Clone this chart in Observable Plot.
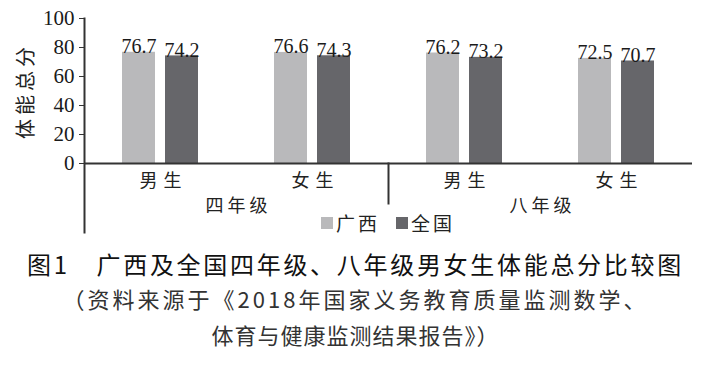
<!DOCTYPE html>
<html>
<head>
<meta charset="utf-8">
<script src="https://cdn.jsdelivr.net/npm/d3@7"></script>
<script src="https://cdn.jsdelivr.net/npm/@observablehq/plot@0.6"></script>
<style>
  body { margin: 0; background: white; }
  #wrap { position: relative; width: 711px; height: 370px; background: white; overflow: hidden; }
  #chart { position: absolute; left: 0; top: 0; }
  .cat text { letter-spacing: 6px; }
  .grade text { letter-spacing: 4px; }
  .ytitle text { letter-spacing: 4px; }
  #legend { position: absolute; left: 321px; top: 209px; display: flex; align-items: center;
    font-family: "Noto Sans CJK SC", sans-serif; font-size: 19px; color: #222; }
  .item { display: flex; align-items: center; margin-right: 16px; letter-spacing: 3px; }
  .sw { width: 12px; height: 12px; margin-right: 3px; display: inline-block; }
  .cap { position: absolute; left: 0; width: 711px; text-align: center; font-family: "Noto Sans CJK SC", sans-serif; }
</style>
</head>
<body>
<div id="wrap">
  <div id="chart"></div>
  <div id="legend"></div>
  <div class="cap" id="c1" style="top:246px;font-size:24px;letter-spacing:2.7px;color:#111;"></div>
  <div class="cap" id="c2" style="top:282px;font-size:22px;letter-spacing:3px;color:#333;"></div>
  <div class="cap" id="c3" style="top:318px;font-size:22px;letter-spacing:1px;color:#333;"></div>
</div>
<script>
const grades = ["四年级", "四年级", "八年级", "八年级"];
const sexes = ["男生", "女生", "男生", "女生"];
const series = ["广西", "全国"];
const guangxi = [76.7, 76.6, 76.2, 72.5];
const national = [74.2, 74.3, 73.2, 70.7];
const yTicks = [0, 20, 40, 60, 80, 100];
const yTitle = "体能总分";
const caption1 = "图1　广西及全国四年级、八年级男女生体能总分比较图";
const caption2 = "（资料来源于《2018年国家义务教育质量监测数学、";
const caption3 = "体育与健康监测结果报告》）";

const keys = grades.map((g, i) => g + "|" + sexes[i]);
const rows = [];
keys.forEach((k, i) => {
  rows.push({key: k, series: series[0], value: guangxi[i]});
  rows.push({key: k, series: series[1], value: national[i]});
});
const colors = ["#b9b9bb", "#66666a"];
const font = "'Liberation Serif', 'Noto Sans CJK SC', serif";
const cjk = "'Noto Sans CJK SC', sans-serif";

const plot = Plot.plot({
  width: 711,
  height: 240,
  marginLeft: 82,
  marginRight: 18,
  marginTop: 18,
  marginBottom: 77,
  style: {fontFamily: font, background: "white", color: "#222", overflow: "visible"},
  fx: {domain: keys, padding: 0, axis: null, label: null},
  x: {domain: series, paddingInner: 0.227, paddingOuter: 0.85, axis: null},
  y: {domain: [0, 100], axis: null},
  color: {domain: series, range: colors},
  marks: [
    Plot.barY(rows, {fx: "key", x: "series", y: "value", fill: "series"}),
    Plot.text(rows, {fx: "key", x: "series", y: "value", text: d => d.value.toFixed(1),
      lineAnchor: "bottom", dy: 1, fontSize: 20, fill: "#1a1a1a"}),
    Plot.ruleY([0], {stroke: "#333", strokeWidth: 2}),
    Plot.axisY({ticks: yTicks, tickSize: 5, tickPadding: 5, fontSize: 21, label: null, stroke: "#333", fill: "#1a1a1a"}),
    Plot.frame({anchor: "left", fx: [keys[0]], insetBottom: -69, stroke: "#333", strokeWidth: 2}),
    Plot.frame({anchor: "left", fx: [keys[2]], insetTop: 145, insetBottom: -40, stroke: "#333", strokeWidth: 2}),
    Plot.text(keys, {fx: d => d, text: d => d.split("|")[1], frameAnchor: "bottom",
      lineAnchor: "middle", dy: 18, dx: 3, fontSize: 18, fontFamily: cjk, fill: "#222", className: "cat"}),
    Plot.text([keys[0], keys[2]], {fx: d => d, text: d => d.split("|")[0], frameAnchor: "bottom-right",
      textAnchor: "middle", lineAnchor: "middle", dy: 43, dx: 2, fontSize: 18, fontFamily: cjk, fill: "#222", className: "grade"}),
    Plot.text([yTitle], {fx: [keys[0]], text: d => d, frameAnchor: "left", textAnchor: "middle", lineAnchor: "middle",
      rotate: -90, dx: -58, dy: 0, fontSize: 20, fontFamily: cjk, fill: "#222", className: "ytitle"})
  ]
});
document.getElementById("chart").appendChild(plot);

const color = plot.scale("color");
const legend = document.getElementById("legend");
color.domain.forEach((s, i) => {
  const item = document.createElement("div");
  item.className = "item";
  const sw = document.createElement("span");
  sw.className = "sw";
  sw.style.background = color.range[i];
  item.appendChild(sw);
  item.appendChild(document.createTextNode(s));
  legend.appendChild(item);
});
document.getElementById("c1").textContent = caption1;
document.getElementById("c2").textContent = caption2;
document.getElementById("c3").textContent = caption3;
</script>
</body>
</html>
